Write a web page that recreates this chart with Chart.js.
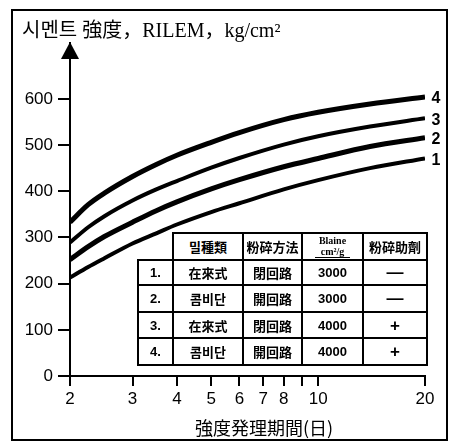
<!DOCTYPE html>
<html><head><meta charset="utf-8">
<script src="https://cdn.jsdelivr.net/npm/chart.js@4.4.0/dist/chart.umd.min.js"></script>
<style>
html,body{margin:0;padding:0;background:#fff;}
#wrap{position:relative;width:449px;height:443px;overflow:hidden;background:#fff;}
#c{position:absolute;left:0;top:0;}
.frame{position:absolute;left:11px;top:9px;width:437px;height:432px;border:2px solid #000;box-sizing:border-box;pointer-events:none;}
.title{position:absolute;left:22px;top:20px;font:20px/1 "Liberation Serif","Noto Sans CJK KR";white-space:nowrap;color:#000;}
.xt{position:absolute;left:264px;top:418px;transform:translateX(-50%);font:18px/1 "Noto Sans CJK JP";white-space:nowrap;color:#000;}
.cell{position:absolute;box-sizing:border-box;border:2px solid #000;background:#fff;display:flex;flex-direction:column;align-items:center;justify-content:center;font:bold 13px/1 "Noto Sans CJK JP";color:#000;white-space:nowrap;}
.num{font:bold 13px/1 "Liberation Sans";}
.sm{font:bold 10px/1.1 "Liberation Serif";}
.sym{font:bold 17px/1 "Liberation Sans";}
</style>
</head><body>
<div id="wrap">
<canvas id="c" width="449" height="443"></canvas>
<div class="title">시멘트 強度，RILEM，kg/cm²</div>
<div class="xt">強度発理期間(日)</div>
<div id="tbl"></div>
<div class="frame"></div>
</div>
<script>
// ---- data ----
const days   = [2,   2.25, 2.5, 3,   3.5, 4,   5,   6,   8,   10,  14,  20];
const curve1 = [213, 236,  255, 287, 309, 328, 355, 374, 404, 424, 450, 471];
const curve2 = [252, 280,  302, 333, 358, 377, 405, 425, 453, 471, 497, 516];
const curve3 = [289, 322,  346, 380, 404, 422, 451, 472, 501, 519, 540, 558];
const curve4 = [333, 371,  396, 432, 458, 478, 506, 527, 555, 571, 589, 604];
const seriesLabels = ['1', '2', '3', '4'];
const xTickValues = [2, 3, 4, 5, 6, 7, 8, 9, 10, 20];
const xTickHidden = [9];
const yTickValues = [0, 100, 200, 300, 400, 500, 600];
const tableHeader = ['밀種類', '粉碎方法', 'Blaine|cm²/g', '粉碎助劑'];
const tableRows = [
  ['1.', '在來式', '閉回路', '3000', '—'],
  ['2.', '콤비단', '開回路', '3000', '—'],
  ['3.', '在來式', '閉回路', '4000', '+'],
  ['4.', '콤비단', '開回路', '4000', '+']
];

// ---- table (inset) ----
const colEdges = [138, 173, 243, 302, 363, 427];
const headTop = 233, rowEdges = [260, 285, 312, 338, 365];
const tbl = document.getElementById('tbl');
function cell(x0, x1, y0, y1, html, cls) {
  const d = document.createElement('div');
  d.className = 'cell';
  d.style.left = (x0 - 1) + 'px'; d.style.top = (y0 - 1) + 'px';
  d.style.width = (x1 - x0 + 2) + 'px'; d.style.height = (y1 - y0 + 2) + 'px';
  d.innerHTML = html;
  if (cls) d.classList.add(cls);
  tbl.appendChild(d);
}
tableHeader.forEach((h, i) => {
  let html = h;
  if (h.includes('|')) {
    const p = h.split('|');
    html = '<span class="sm">' + p[0] + '</span><span class="sm" style="border-bottom:1.5px solid #000;padding:0 6px">' + p[1] + '</span>';
  }
  cell(colEdges[i + 1], colEdges[i + 2], headTop, rowEdges[0], html);
});
tableRows.forEach((r, ri) => {
  r.forEach((t, ci) => {
    let cls = '';
    if (ci === 0 || ci === 3) cls = 'num';
    if (ci === 4) cls = 'sym';
    cell(colEdges[ci], colEdges[ci + 1], rowEdges[ri], rowEdges[ri + 1], t, cls);
  });
});

// ---- chart ----
const series = [curve1, curve2, curve3, curve4];
const widths = [4, 5, 4, 5];
const datasets = series.map((vals, i) => ({
  label: seriesLabels[i],
  data: days.map((d, j) => ({ x: d, y: vals[j] })),
  borderColor: '#000',
  borderWidth: widths[i],
  pointRadius: 0,
  fill: false,
  cubicInterpolationMode: 'monotone'
}));

const deco = {
  id: 'deco',
  afterDatasetsDraw(chart) {
    const { ctx, chartArea, scales: { x, y } } = chart;
    ctx.save();
    ctx.fillStyle = '#000';
    const ax = chartArea.left;
    ctx.beginPath();
    ctx.moveTo(ax, chartArea.top - 1);
    ctx.lineTo(ax - 9, chartArea.top + 16);
    ctx.lineTo(ax + 9, chartArea.top + 16);
    ctx.closePath();
    ctx.fill();
    ctx.font = 'bold 16px "Liberation Sans"';
    ctx.textAlign = 'center';
    ctx.textBaseline = 'middle';
    chart.data.datasets.forEach(ds => {
      const last = ds.data[ds.data.length - 1];
      ctx.fillText(ds.label, x.getPixelForValue(last.x) + 11, y.getPixelForValue(last.y) + 2);
    });
    ctx.restore();
  }
};

Chart.defaults.font.family = '"Liberation Sans", Arial, sans-serif';
Chart.defaults.color = '#000';

new Chart(document.getElementById('c'), {
  type: 'line',
  data: { datasets },
  options: {
    responsive: false,
    devicePixelRatio: 1,
    animation: false,
    layout: { padding: { left: 0, right: 24, top: 43, bottom: 0 } },
    plugins: { legend: { display: false }, tooltip: { enabled: false }, title: { display: false } },
    scales: {
      x: {
        type: 'logarithmic',
        min: 2, max: 20,
        afterBuildTicks: s => { s.ticks = xTickValues.map(v => ({ value: v })); },
        afterFit: s => { s.height = 67; },
        ticks: {
          autoSkip: false, maxRotation: 0, padding: 3,
          font: { size: 17 },
          callback: v => xTickHidden.includes(v) ? '' : String(v)
        },
        grid: { drawOnChartArea: false, drawTicks: true, tickLength: 10, color: '#000', lineWidth: 2 },
        border: { display: true, color: '#000', width: 2 }
      },
      y: {
        min: 0, max: 721,
        afterBuildTicks: s => { s.ticks = yTickValues.map(v => ({ value: v })); },
        afterFit: s => { s.width = 70; },
        ticks: { padding: 5, font: { size: 17 } },
        grid: { drawOnChartArea: false, drawTicks: true, tickLength: 12, color: '#000', lineWidth: 2 },
        border: { display: true, color: '#000', width: 2 }
      }
    }
  },
  plugins: [deco]
});
</script>
</body></html>
